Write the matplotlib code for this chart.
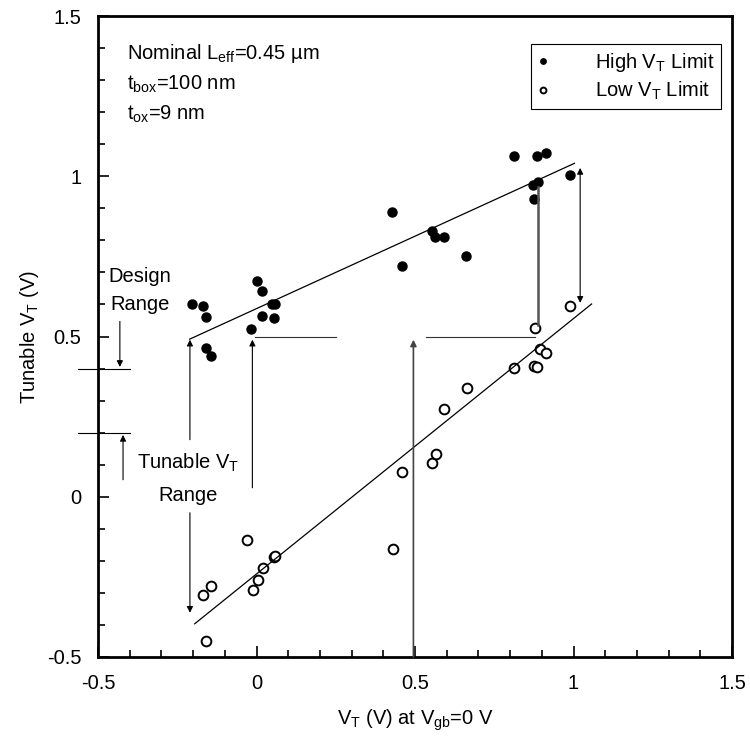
import matplotlib
matplotlib.use("Agg")
import matplotlib.pyplot as plt
from matplotlib import font_manager as fm
import numpy as np

# ---------------- data ----------------
high_x = [-0.203, -0.169, -0.159, -0.159, -0.143, -0.016, 0.001, 0.017, 0.017, 0.048,
          0.059, 0.054, 0.427, 0.459, 0.553, 0.563, 0.593, 0.661, 0.811, 0.872,
          0.888, 0.875, 0.885, 0.912, 0.989]
high_y = [0.601, 0.596, 0.561, 0.464, 0.438, 0.523, 0.674, 0.643, 0.565, 0.601,
          0.601, 0.557, 0.888, 0.719, 0.828, 0.809, 0.809, 0.752, 1.064, 0.973,
          0.981, 0.929, 1.062, 1.072, 1.004]

low_x = [-0.159, -0.169, -0.145, -0.030, -0.012, 0.006, 0.019, 0.054, 0.059, 0.432,
         0.459, 0.553, 0.565, 0.593, 0.663, 0.812, 0.875, 0.886, 0.893, 0.914,
         0.877, 0.989]
low_y = [-0.450, -0.308, -0.278, -0.136, -0.292, -0.261, -0.221, -0.188, -0.184, -0.162,
         0.076, 0.105, 0.134, 0.274, 0.339, 0.401, 0.407, 0.404, 0.461, 0.450,
         0.526, 0.594]

# fitted lines (slope, intercept) and x extents
high_fit = (0.452, 0.587)
high_fit_span = [-0.211, 1.003]
low_fit = (0.797, -0.241)
low_fit_span = [-0.195, 1.057]

x_ticks = [-0.5, 0, 0.5, 1, 1.5]
x_ticklabels = ["-0.5", "0", "0.5", "1", "1.5"]
y_ticks = [-0.5, 0, 0.5, 1, 1.5]
y_ticklabels = ["-0.5", "0", "0.5", "1", "1.5"]

# ---------------- fonts ----------------
names = {f.name for f in fm.fontManager.ttflist}
if "Liberation Sans Narrow" in names:
    FONT = "Liberation Sans Narrow"
    FS = 17
else:
    FONT = "Liberation Sans"
    FS = 14.5
plt.rcParams["font.family"] = [FONT, "DejaVu Sans"]
plt.rcParams["mathtext.fontset"] = "custom"
plt.rcParams["mathtext.rm"] = FONT
plt.rcParams["mathtext.it"] = FONT

fig = plt.figure(figsize=(7.5, 7.48), dpi=100)
ax = fig.add_axes([98 / 750, 1 - 657 / 748, (732 - 98) / 750, (657 - 16) / 748])

ax.set_xlim(-0.5, 1.5)
ax.set_ylim(-0.5, 1.5)

ax.plot(high_x, high_y, "o", color="black", ms=6.5, label=r"High V$\mathregular{_T}$ Limit")
ax.plot(low_x, low_y, "o", mfc="white", mec="black", mew=1.4, ms=7,
        label=r"Low V$\mathregular{_T}$ Limit")

hx = np.array(high_fit_span)
ax.plot(hx, high_fit[0] * hx + high_fit[1], color="black", lw=0.9)
lx = np.array(low_fit_span)
ax.plot(lx, low_fit[0] * lx + low_fit[1], color="black", lw=0.9)

# ---------------- annotations ----------------
arw = dict(arrowstyle="-|>", color="black", lw=0.8, mutation_scale=9, shrinkA=0, shrinkB=0)
arw2 = dict(arrowstyle="<|-|>", color="black", lw=0.8, mutation_scale=9, shrinkA=0, shrinkB=0)

def arrow(x0, y0, x1, y1, props=arw):
    a = ax.annotate("", xy=(x1, y1), xytext=(x0, y0), xycoords="data", textcoords="data",
                    arrowprops=props)
    a.set_annotation_clip(False)

# Tunable VT range arrows (split around the label)
arrow(-0.21, 0.178, -0.21, 0.49)
arrow(-0.21, -0.05, -0.21, -0.362)
# arrow at x ~ 0
arrow(-0.013, 0.028, -0.013, 0.49)
# horizontal line at 0.5
ax.plot([-0.005, 0.25], [0.50, 0.50], color="#333333", lw=0.8)
ax.plot([0.535, 0.878], [0.50, 0.50], color="#333333", lw=0.8)
# vertical arrow at x=0.5
arrow(0.495, -0.5, 0.495, 0.49, props=dict(arw, lw=1.2, color="#444444"))
# vertical line at x ~ 0.888
ax.plot([0.888, 0.888], [0.967, 0.536], color="#555555", lw=1.8)
# double arrow at x ~ 1.02
arrow(1.021, 0.605, 1.021, 1.026, props=arw2)

# design range
ax.plot([-0.563, -0.40], [0.40, 0.40], color="black", lw=0.8, clip_on=False)
ax.plot([-0.563, -0.40], [0.20, 0.20], color="black", lw=0.8, clip_on=False)
arrow(-0.431, 0.547, -0.431, 0.405)
arrow(-0.421, 0.053, -0.421, 0.193)

ax.text(-0.368, 0.645, "Design\nRange", ha="center", va="center", fontsize=FS,
        linespacing=1.6)
ax.text(-0.217, 0.058, "Tunable V$\\mathregular{_T}$\nRange", ha="center", va="center",
        fontsize=FS, linespacing=1.8)

ax.text((127 - 98) / 634, (657 - 42) / 641,
        "Nominal L$\\mathregular{_{eff}}$=0.45 µm\nt$\\mathregular{_{box}}$=100 nm\nt$\\mathregular{_{ox}}$=9 nm",
        transform=ax.transAxes, ha="left", va="top", fontsize=FS, linespacing=1.55)

# ---------------- axes styling ----------------
ax.set_xticks(x_ticks)
ax.set_xticklabels(x_ticklabels)
ax.set_yticks(y_ticks)
ax.set_yticklabels(y_ticklabels)
ax.set_xticks(np.round(np.arange(-0.5, 1.5001, 0.1), 2), minor=True)
ax.set_yticks(np.round(np.arange(-0.5, 1.5001, 0.1), 2), minor=True)
ax.tick_params(which="both", direction="in", top=False, right=False, labelsize=FS, width=1.2)
ax.tick_params(which="major", length=8, pad=12)
ax.tick_params(which="minor", length=5)
for s in ax.spines.values():
    s.set_linewidth(2)

ax.set_xlabel(r"V$\mathregular{_T}$ (V) at V$\mathregular{_{gb}}$=0 V", fontsize=FS)
ax.xaxis.set_label_coords(0.5, -(720 - 657) / 641)
ax.xaxis.label.set_va("center")
ax.set_ylabel(r"Tunable V$\mathregular{_T}$ (V)", fontsize=FS)
ax.yaxis.set_label_coords(-0.09, 0.5)

leg = ax.legend(loc="upper right", bbox_to_anchor=(0.983, 0.957), borderaxespad=0,
                fancybox=False, edgecolor="black", fontsize=FS, markerscale=0.6,
                handlelength=0.5, handletextpad=2.3, labelspacing=0.3,
                borderpad=0.35, framealpha=1)
leg.get_frame().set_linewidth(0.8)

fig.savefig("out.png", dpi=100)
